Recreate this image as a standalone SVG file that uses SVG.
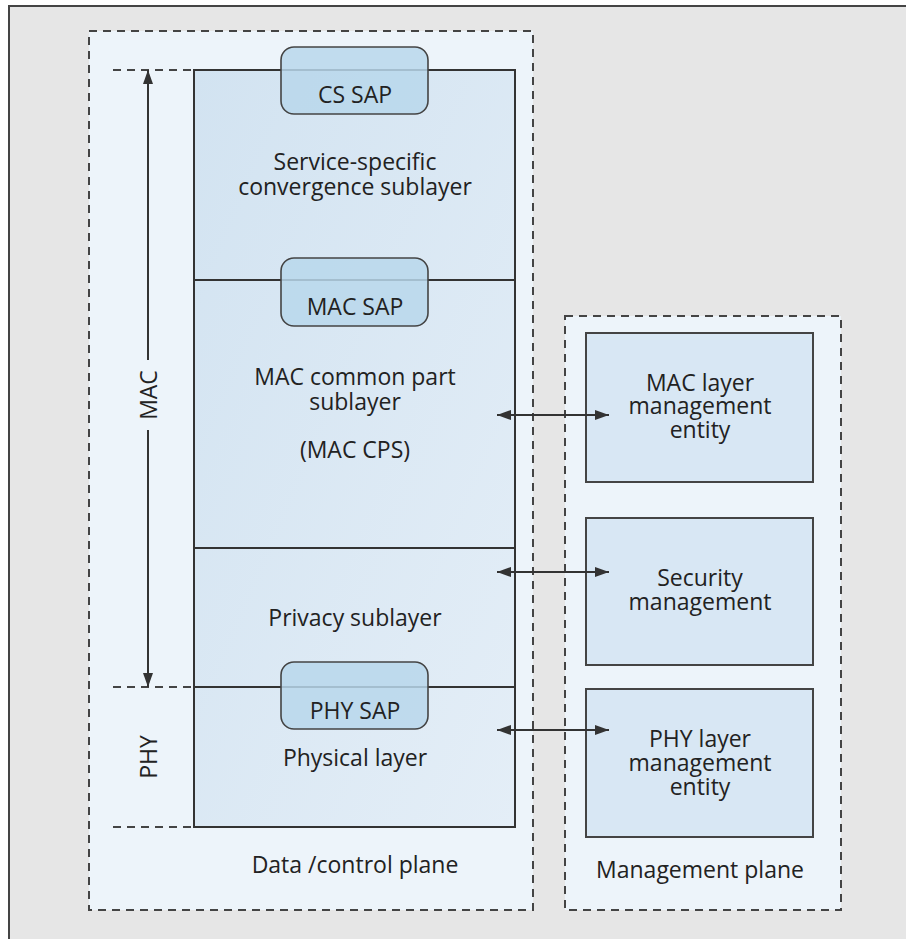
<svg xmlns="http://www.w3.org/2000/svg" width="906" height="939" viewBox="0 0 906 939">
  <style>
    text { font-family: "Open Sans", "Noto Sans", "DejaVu Sans", sans-serif; font-size: 23px; fill: #222; text-anchor: middle; }
    .plane { fill: #edf4fa; stroke: #444; stroke-width: 2; stroke-dasharray: 8 6; }
    .layer { stroke: #333; stroke-width: 2; fill: none; }
    .sap { fill: #b9d7eb; fill-opacity: 0.85; stroke: #444; stroke-width: 1.6; }
    .entity { fill: #d8e7f4; stroke: #444; stroke-width: 2; }
    .guide { stroke: #444; stroke-width: 2; stroke-dasharray: 8 6; fill: none; }
    .conn { stroke: #333; stroke-width: 2; fill: none; }
  </style>
  <defs>
    <linearGradient id="layerFill" x1="0" y1="0" x2="1" y2="1">
      <stop offset="0" stop-color="#d2e3f1"/>
      <stop offset="1" stop-color="#e4eef7"/>
    </linearGradient>
    <marker id="head" viewBox="0 0 14 10" refX="14" refY="5" markerWidth="14" markerHeight="10" markerUnits="userSpaceOnUse" orient="auto-start-reverse">
      <path d="M0,0 L14,5 L0,10 Z" fill="#333"/>
    </marker>
  </defs>

  <!-- page and frame -->
  <rect x="0" y="0" width="906" height="939" fill="#ffffff"/>
  <rect x="9" y="6" width="897" height="933" fill="#e6e6e6"/>
  <path d="M9,939 V6 H906" fill="none" stroke="#444" stroke-width="2"/>

  <!-- planes -->
  <g id="data-control-plane">
    <rect class="plane" x="89" y="31" width="444" height="879"/>
    <text x="355" y="873">Data /control plane</text>
  </g>
  <g id="management-plane">
    <rect class="plane" x="565" y="316" width="276" height="594"/>
    <text x="700" y="878">Management plane</text>
  </g>

  <!-- protocol stack -->
  <g id="stack">
    <rect x="194" y="70" width="321" height="757" fill="url(#layerFill)"/>
    <path class="layer" d="M194,70 H515 V827 H194 Z M194,280 H515 M194,548 H515 M194,687 H515"/>
  </g>
  <g id="cs-sublayer">
    <text x="355" y="170">Service-specific</text>
    <text x="355" y="195">convergence sublayer</text>
  </g>
  <g id="mac-cps">
    <text x="355" y="385">MAC common part</text>
    <text x="355" y="410">sublayer</text>
    <text x="355" y="458">(MAC CPS)</text>
  </g>
  <g id="privacy-sublayer">
    <text x="355" y="626">Privacy sublayer</text>
  </g>
  <g id="physical-layer">
    <text x="355" y="766">Physical layer</text>
  </g>

  <!-- service access points -->
  <g id="cs-sap">
    <rect class="sap" x="281" y="47" width="147" height="67" rx="13"/>
    <text x="355" y="103">CS SAP</text>
  </g>
  <g id="mac-sap">
    <rect class="sap" x="281" y="258" width="147" height="68" rx="13"/>
    <text x="355" y="315">MAC SAP</text>
  </g>
  <g id="phy-sap">
    <rect class="sap" x="281" y="662" width="147" height="67" rx="13"/>
    <text x="355" y="719">PHY SAP</text>
  </g>

  <!-- management entities -->
  <g id="mac-lme">
    <rect class="entity" x="586" y="333" width="227" height="149"/>
    <text x="700" y="391">MAC layer</text>
    <text x="700" y="414">management</text>
    <text x="700" y="438">entity</text>
  </g>
  <g id="security-mgmt">
    <rect class="entity" x="586" y="518" width="227" height="147"/>
    <text x="700" y="586">Security</text>
    <text x="700" y="610">management</text>
  </g>
  <g id="phy-lme">
    <rect class="entity" x="586" y="689" width="227" height="148"/>
    <text x="700" y="747">PHY layer</text>
    <text x="700" y="771">management</text>
    <text x="700" y="795">entity</text>
  </g>

  <!-- layer extent labels -->
  <g id="extent-labels">
    <text transform="translate(157,395) rotate(-90)">MAC</text>
    <text transform="translate(157,757) rotate(-90)">PHY</text>
  </g>

  <g id="connectors">
    <path class="guide" d="M113,70 H194 M113,687 H194 M113,827 H194"/>
    <path class="conn" d="M148,360 V70" marker-end="url(#head)"/>
    <path class="conn" d="M148,430 V687" marker-end="url(#head)"/>
    <path class="conn" d="M497,415 H609" marker-start="url(#head)" marker-end="url(#head)"/>
    <path class="conn" d="M497,572 H609" marker-start="url(#head)" marker-end="url(#head)"/>
    <path class="conn" d="M497,730 H609" marker-start="url(#head)" marker-end="url(#head)"/>
  </g>
</svg>
